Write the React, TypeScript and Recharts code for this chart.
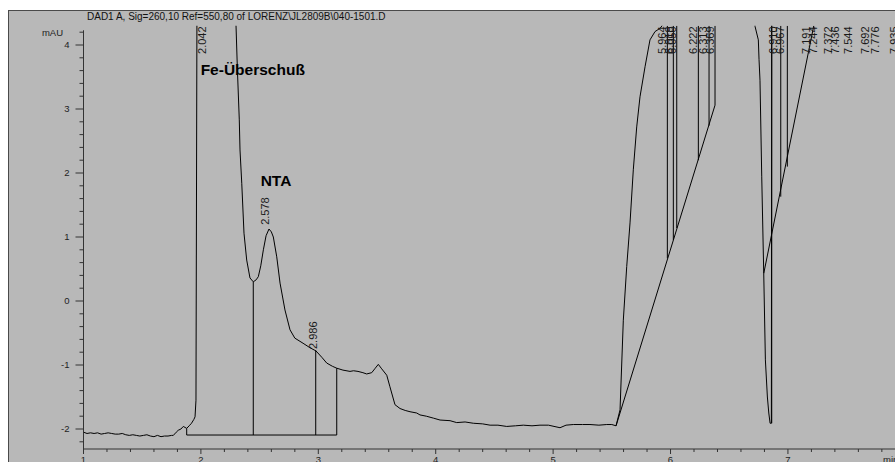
import React from 'react';
import { ComposedChart, Line, XAxis, YAxis, ReferenceLine, ReferenceDot } from 'recharts';

const FONT = '"Liberation Sans", Arial, sans-serif';

// Chromatogram trace: retention time (min) and signal (mAU)
const traceTime = [
  1.0, 1.03, 1.06, 1.09, 1.12, 1.15, 1.18, 1.21, 1.24, 1.27, 1.3, 1.33, 1.36, 1.39, 1.42, 1.45, 1.48, 1.51,
  1.54, 1.57, 1.6, 1.63, 1.66, 1.69, 1.72, 1.75, 1.765, 1.79, 1.807, 1.83, 1.85, 1.879, 1.9, 1.92, 1.94, 1.95,
  1.958, 1.966, 1.972, 2.1, 2.28, 2.299, 2.311, 2.327, 2.333, 2.348, 2.367, 2.39, 2.418, 2.446, 2.47, 2.489,
  2.51, 2.532, 2.555, 2.58, 2.6, 2.617, 2.646, 2.674, 2.716, 2.759, 2.8, 2.87, 2.929, 2.98, 3.03, 3.072, 3.12,
  3.157, 3.21, 3.27, 3.3, 3.338, 3.38, 3.412, 3.455, 3.485, 3.511, 3.54, 3.583, 3.61, 3.653, 3.696, 3.74, 3.781,
  3.838, 3.866, 3.92, 3.98, 4.037, 4.122, 4.179, 4.25, 4.32, 4.4, 4.463, 4.53, 4.605, 4.68, 4.746, 4.82, 4.888,
  4.96, 5.059, 5.11, 5.172, 5.25, 5.314, 5.39, 5.457, 5.5, 5.536, 5.57, 5.598, 5.627, 5.655, 5.683, 5.712, 5.74,
  5.783, 5.825, 5.868, 5.91, 5.928, 5.96, 6.3, 6.7, 6.72, 6.748, 6.754, 6.762, 6.777, 6.794, 6.808, 6.825, 6.837,
  6.848, 6.859, 6.862, 6.87, 7.912,
];
const traceSignal = [
  -2.05, -2.07, -2.06, -2.07, -2.06, -2.08, -2.07, -2.06, -2.07, -2.08, -2.08, -2.07, -2.09, -2.1, -2.09, -2.1,
  -2.11, -2.1, -2.09, -2.11, -2.12, -2.1, -2.12, -2.11, -2.11, -2.1, -2.1, -2.05, -2.02, -2.0, -1.96, -1.99,
  -1.95, -1.91, -1.85, -1.81, -1.55, 4.3, 6.0, 8.0, 6.0, 4.31, 3.61, 2.83, 2.36, 1.84, 1.06, 0.64, 0.36, 0.3,
  0.33, 0.38, 0.55, 0.8, 1.02, 1.125, 1.08, 1.0, 0.69, 0.28, -0.14, -0.45, -0.58, -0.66, -0.73, -0.78, -0.88,
  -0.97, -1.02, -1.05, -1.08, -1.1, -1.09, -1.1, -1.12, -1.14, -1.12, -1.05, -0.99, -1.06, -1.16, -1.34, -1.62,
  -1.68, -1.71, -1.73, -1.75, -1.78, -1.8, -1.83, -1.86, -1.87, -1.9, -1.89, -1.91, -1.92, -1.94, -1.94, -1.96,
  -1.95, -1.94, -1.95, -1.94, -1.94, -1.98, -1.94, -1.93, -1.93, -1.93, -1.94, -1.93, -1.93, -1.95, -1.7, -0.3,
  0.54, 1.22, 2.05, 2.72, 3.19, 3.66, 4.08, 4.21, 4.26, 4.3, 5.0, 6.0, 5.0, 4.29, 4.08, 3.77, 3.45, 1.94, 0.43,
  -0.92, -1.5, -1.75, -1.91, -1.91, 4.3, 6.0, 6.0,
];

// Integration baselines and drop lines: [t1, v1, t2, v2]
const integrationLines: number[][] = [
  [1.879, -2.094, 3.157, -2.094],
  [1.879, -2.094, 1.879, -1.99],
  [2.446, -2.094, 2.446, 0.3],
  [2.978, -2.094, 2.978, -0.77],
  [3.157, -2.094, 3.157, -1.05],
  [5.536, -1.95, 6.379, 3.06],
  [5.973, 0.667, 5.973, 4.3],
  [6.024, 0.953, 6.024, 4.3],
  [6.053, 1.14, 6.053, 4.3],
  [6.237, 2.2, 6.237, 4.3],
  [6.328, 2.74, 6.328, 4.3],
  [6.379, 3.06, 6.379, 4.3],
  [6.794, 0.43, 7.22, 4.3],
  [6.862, -1.91, 6.862, 4.3],
  [6.939, 1.63, 6.939, 4.3],
  [6.995, 2.1, 6.995, 4.3],
];

// Retention time labels: position (min), text, anchor value (mAU), at top of plot?
const peakTimes = [2.042, 2.578, 2.986, 5.964, 6.019, 6.05, 6.222, 6.313, 6.369, 6.91, 6.967, 7.191, 7.244, 7.372, 7.436, 7.544, 7.692, 7.776, 7.935];
const peakTexts = ['2.042', '2.578', '2.986', '5.964', '6.019', '6.050', '6.222', '6.313', '6.369', '6.910', '6.967', '7.191', '7.244', '7.372', '7.436', '7.544', '7.692', '7.776', '7.935'];
const peakAnchor = [4.29, 1.19, -0.75, 4.29, 4.29, 4.29, 4.29, 4.29, 4.29, 4.29, 4.29, 4.29, 4.29, 4.29, 4.29, 4.29, 4.29, 4.29, 4.29];
const peakAtTop = [true, false, false, true, true, true, true, true, true, true, true, true, true, true, true, true, true, true, true];

const yTicks = [-2.2, -2, -1.8, -1.6, -1.4, -1.2, -1, -0.8, -0.6, -0.4, -0.2, 0, 0.2, 0.4, 0.6, 0.8, 1, 1.2, 1.4, 1.6, 1.8, 2, 2.2, 2.4, 2.6, 2.8, 3, 3.2, 3.4, 3.6, 3.8, 4, 4.2];
const xTicks = [1, 1.2, 1.4, 1.6, 1.8, 2, 2.2, 2.4, 2.6, 2.8, 3, 3.2, 3.4, 3.6, 3.8, 4, 4.2, 4.4, 4.6, 4.8, 5, 5.2, 5.4, 5.6, 5.8, 6, 6.2, 6.4, 6.6, 6.8, 7, 7.2, 7.4, 7.6, 7.8];

const annotations = [
  { t: 1.998, v: 3.53, text: 'Fe-Überschuß' },
  { t: 2.509, v: 1.8, text: 'NTA' },
];

const AXIS = '#333';

const isMajor = (v: number) => Math.abs(v - Math.round(v)) < 1e-6;

const YTick = (props: any) => {
  const { x, y, payload } = props;
  const v = payload.value;
  const major = isMajor(v);
  return (
    <g>
      <line x1={x - (major ? 8 : 4)} x2={x} y1={y} y2={y} stroke={AXIS} strokeWidth={1} />
      {major && (
        <text x={x - 14} y={y + 3.4} textAnchor="end" fontSize={9.5} fontFamily={FONT} fill="#222">
          {Math.round(v)}
        </text>
      )}
    </g>
  );
};

const XTick = (props: any) => {
  const { x, y, payload } = props;
  const v = payload.value;
  const major = isMajor(v);
  return (
    <g>
      <line x1={x} x2={x} y1={y} y2={y + (major ? 5 : 3)} stroke={AXIS} strokeWidth={1} />
      {major && (
        <text x={x} y={y + 14} textAnchor="middle" fontSize={9.5} fontFamily={FONT} fill="#222">
          {Math.round(v)}
        </text>
      )}
    </g>
  );
};

export default function App() {
  const data = traceTime.map((t, i) => ({ t, v: traceSignal[i] }));
  return (
    <div style={{ position: 'relative', width: 895, height: 462, overflow: 'hidden', background: '#fff' }}>
      <style>{'html,body{margin:0;padding:0;overflow:hidden;}'}</style>
      <div
        style={{
          position: 'absolute',
          left: 8,
          top: 10,
          width: 887,
          height: 452,
          background: '#b8b8b8',
          boxShadow: 'inset 1px 1px 0 #4a4a4a',
        }}
      />
      <div style={{ position: 'absolute', left: 0, top: 0 }}>
        <ComposedChart width={895} height={462} data={data} margin={{ top: 25.8, right: 0, bottom: 0, left: 0 }}>
          <XAxis
            type="number"
            dataKey="t"
            domain={[1, 7.912]}
            allowDataOverflow
            ticks={xTicks}
            interval={0}
            tickSize={0}
            tickMargin={0}
            height={13}
            tick={<XTick />}
            axisLine={{ stroke: AXIS }}
            tickLine={false}
          />
          <YAxis
            type="number"
            domain={[-2.3125, 4.3]}
            allowDataOverflow
            ticks={yTicks}
            interval={0}
            tickSize={0}
            tickMargin={0}
            width={83.5}
            tick={<YTick />}
            axisLine={false}
            tickLine={false}
          />
          <ReferenceLine
            segment={[{ x: 1, y: -2.3125 }, { x: 1, y: 4.23 }]}
            stroke={AXIS}
            strokeWidth={1}
            ifOverflow="visible"
          />
          {integrationLines.map((s, i) => (
            <ReferenceLine
              key={'il' + i}
              segment={[{ x: s[0], y: s[1] }, { x: s[2], y: s[3] }]}
              stroke="#000"
              strokeWidth={1}
              ifOverflow="hidden"
            />
          ))}
          <Line
            type="linear"
            dataKey="v"
            stroke="#000"
            strokeWidth={1}
            dot={false}
            activeDot={false}
            isAnimationActive={false}
          />
          {peakTimes.map((t, i) => (
            <ReferenceDot
              key={'pk' + i}
              x={t}
              y={peakAnchor[i]}
              r={0}
              ifOverflow="visible"
              shape={(p: any) => (
                <text
                  x={p.cx}
                  y={p.cy}
                  transform={`rotate(-90 ${p.cx} ${p.cy})`}
                  textAnchor={peakAtTop[i] ? 'end' : 'start'}
                  fontSize={11}
                  fontFamily={FONT}
                  fill="#1a1a1a"
                >
                  {peakTexts[i]}
                </text>
              )}
            />
          ))}
          {annotations.map((a, i) => (
            <ReferenceDot
              key={'an' + i}
              x={a.t}
              y={a.v}
              r={0}
              ifOverflow="visible"
              shape={(p: any) => (
                <text x={p.cx} y={p.cy} fontSize={15.5} fontWeight="bold" fontFamily={FONT} fill="#000">
                  {a.text}
                </text>
              )}
            />
          ))}
        </ComposedChart>
      </div>
      <svg style={{ position: 'absolute', left: 0, top: 0, pointerEvents: 'none' }} width={895} height={462}>
        <text x={87} y={19.5} fontSize={10} fontFamily={FONT} fill="#111">
          {'DAD1 A, Sig=260,10 Ref=550,80 of LORENZ\\JL2809B\\040-1501.D'}
        </text>
        <text x={63} y={35.5} textAnchor="end" fontSize={9.5} fontFamily={FONT} fill="#222">
          mAU
        </text>
        <text x={883} y={463} fontSize={9.5} fontFamily={FONT} fill="#222">
          min
        </text>
      </svg>
    </div>
  );
}
